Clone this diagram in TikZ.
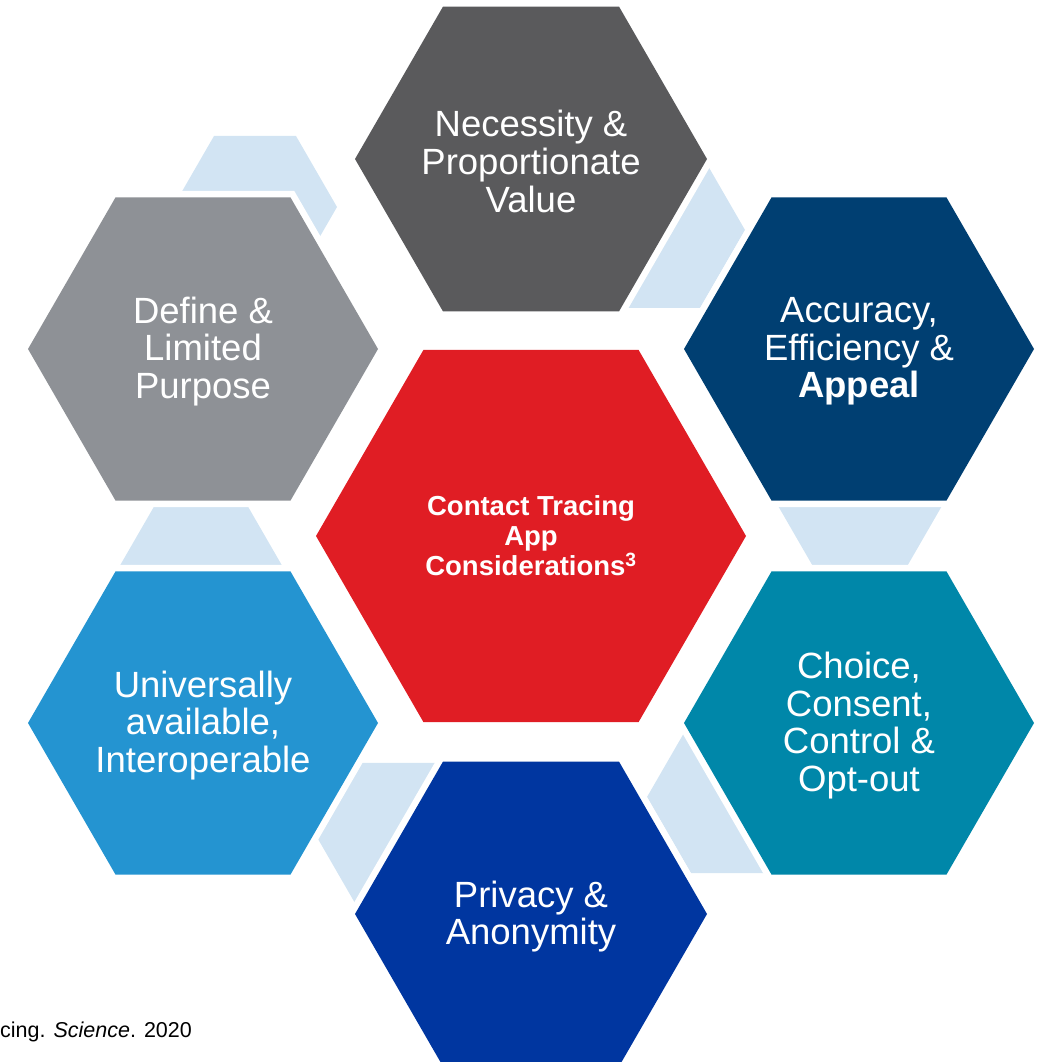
\documentclass[tikz,border=0pt]{standalone}
\usepackage{fontspec}
\setmainfont{Liberation Sans}
\usetikzlibrary{shapes.geometric}
\definecolor{cgray}{HTML}{5A5A5C}
\definecolor{clgray}{HTML}{8E9196}
\definecolor{cnavy}{HTML}{003F72}
\definecolor{cteal}{HTML}{0087A9}
\definecolor{csky}{HTML}{2494D1}
\definecolor{croyal}{HTML}{0036A0}
\definecolor{cred}{HTML}{E01D24}
\definecolor{clight}{HTML}{D2E4F3}
\begin{document}
\begin{tikzpicture}[x=1pt,y=-1pt,
  hexa/.style={regular polygon, regular polygon sides=6, inner sep=0pt, outer sep=0pt, minimum size=#1},
  linkhex/.style={hexa=#1, fill=clight},
  mainhex/.style={hexa=#1, preaction={draw=white, line width=13pt}},
  bigtxt/.style={text=white, align=center, yshift=-2.5pt, font=\fontsize{36.5}{37.7}\selectfont},
  redtxt/.style={text=white, align=center, font=\fontsize{27.5}{30}\selectfont\bfseries}]
\useasboundingbox (0,0) rectangle (1049,1062);
% light connector hexagons
\node[linkhex=164] (c1) at (255,207) {};
\node[linkhex=180] (c2) at (655,230) {};
\node[linkhex=188] (c3) at (860,485) {};
\node[linkhex=176] (c4) at (735,797) {};
\node[linkhex=176] (c5) at (406,839) {};
\node[linkhex=188] (c6) at (201,588) {};
% main hexagons
\node[mainhex=352, fill=cgray] (nec) at (531,159) {};
\node[mainhex=350, fill=clgray] (def) at (203,349) {};
\node[mainhex=350, fill=cnavy] (acc) at (859,349) {};
\node[mainhex=350, fill=csky] (uni) at (203,723) {};
\node[mainhex=350, fill=cteal] (cho) at (859,723) {};
\node[mainhex=352, fill=croyal] (pri) at (531,914) {};
\node[mainhex=430, fill=cred] (ctr) at (531,536) {};
% texts
\node[bigtxt] (necT) at (nec.center) {Necessity \&\\Proportionate\\Value};
\node[bigtxt] (defT) at (def.center) {Define \&\\Limited\\Purpose};
\node[bigtxt] (accT) at (acc.center) {Accuracy,\\Efficiency \&\\\textbf{Appeal}};
\node[bigtxt] (uniT) at (uni.center) {Universally\\available,\\Interoperable};
\node[bigtxt] (choT) at (cho.center) {Choice,\\Consent,\\Control \&\\Opt-out};
\node[bigtxt] (priT) at (pri.center) {Privacy \&\\Anonymity};
\node[redtxt] (ctrT) at (ctr.center) {Contact Tracing\\App\\Considerations\textsuperscript{3}};
\node[anchor=base west, inner sep=0pt, font=\fontsize{21.5}{24}\selectfont] (cite) at (0,1037) {cing. \textit{Science}. 2020};
\end{tikzpicture}
\end{document}
